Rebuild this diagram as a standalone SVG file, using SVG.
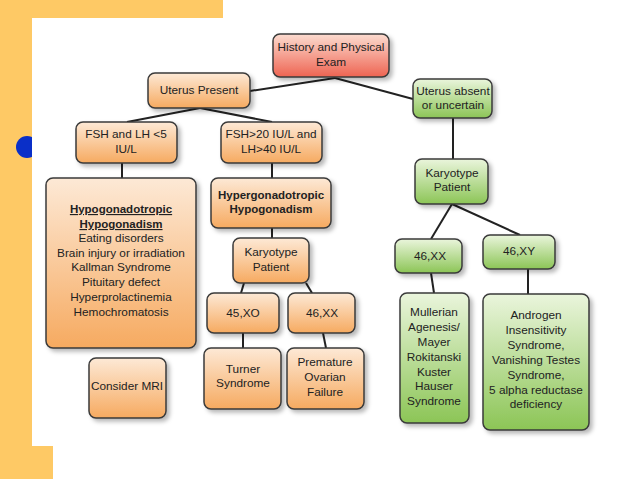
<svg xmlns="http://www.w3.org/2000/svg" width="638" height="479" viewBox="0 0 638 479">
<defs>
<linearGradient id="gOr" x1="0" y1="0" x2="0" y2="1"><stop offset="0" stop-color="#fde9d6"/><stop offset="1" stop-color="#f6aa60"/></linearGradient>
<linearGradient id="gGr" x1="0" y1="0" x2="0" y2="1"><stop offset="0" stop-color="#eaf5dc"/><stop offset="1" stop-color="#8cc556"/></linearGradient>
<linearGradient id="gRd" x1="0" y1="0" x2="0" y2="1"><stop offset="0" stop-color="#fcdcd0"/><stop offset="1" stop-color="#ee6452"/></linearGradient>
<filter id="sh" x="-20%" y="-20%" width="150%" height="150%"><feDropShadow dx="3" dy="3" stdDeviation="2" flood-color="#000" flood-opacity="0.28"/></filter>
<style>
.n rect{stroke:#3a3a3a;stroke-width:1.5;filter:url(#sh)}
.o rect{fill:url(#gOr)}
.g rect{fill:url(#gGr)}
.r rect{fill:url(#gRd)}
text{font-family:"Liberation Sans",Arial,sans-serif;font-size:11.8px;fill:#222;text-anchor:middle}
.b{font-weight:bold;font-size:11.5px}
.u{text-decoration:underline}
#conn line{stroke:#222;stroke-width:2}
</style>
</defs>
<rect x="0" y="0" width="638" height="479" fill="#fff"/>
<g id="bg">
<rect x="0" y="0" width="223" height="18" fill="#fec965"/>
<rect x="0" y="0" width="32" height="479" fill="#fec965"/>
<rect x="0" y="446" width="53" height="33" fill="#fec965"/>
<circle cx="27" cy="147" r="11" fill="#0a2fc8"/>
<rect x="32" y="18" width="606" height="428" fill="#fff"/>
<rect x="53" y="446" width="585" height="33" fill="#fff"/>
</g>
<g id="conn">
<line x1="335" y1="78" x2="250" y2="91"/>
<line x1="335" y1="78" x2="413" y2="99"/>
<line x1="200" y1="108" x2="127" y2="122"/>
<line x1="200" y1="108" x2="272" y2="122"/>
<line x1="122" y1="163" x2="122" y2="178"/>
<line x1="272" y1="163" x2="272" y2="178"/>
<line x1="272" y1="228" x2="272" y2="238"/>
<line x1="244" y1="283" x2="241" y2="293"/>
<line x1="306" y1="283" x2="312" y2="293"/>
<line x1="243" y1="333" x2="243" y2="348"/>
<line x1="323" y1="333" x2="326" y2="348"/>
<line x1="453" y1="118" x2="453" y2="159"/>
<line x1="452" y1="204" x2="431" y2="239"/>
<line x1="452" y1="204" x2="520" y2="235"/>
<line x1="431" y1="273" x2="434" y2="293"/>
<line x1="528" y1="269" x2="528" y2="294"/>
</g>
<g id="history" class="n r"><rect x="273" y="34" width="116" height="43" rx="7"/><text x="331" y="51">History and Physical</text><text x="331" y="66">Exam</text></g>
<g id="uterusPresent" class="n o"><rect x="148" y="73" width="102" height="35" rx="7"/><text x="199" y="94">Uterus Present</text></g>
<g id="uterusAbsent" class="n g"><rect x="413" y="79" width="79" height="39" rx="7"/><text x="453" y="95">Uterus absent</text><text x="453" y="109">or uncertain</text></g>
<g id="fshLow" class="n o"><rect x="76" y="122" width="101" height="41" rx="7"/><text x="126" y="138">FSH and LH &lt;5</text><text x="126" y="153">IU/L</text></g>
<g id="fshHigh" class="n o"><rect x="221" y="122" width="101" height="41" rx="7"/><text x="271" y="138">FSH&gt;20 IU/L and</text><text x="271" y="153">LH&gt;40 IU/L</text></g>
<g id="hypo" class="n o"><rect x="46" y="178" width="150" height="170" rx="7"/>
<text class="b u" x="121" y="213">Hypogonadotropic</text>
<text class="b u" x="121" y="228">Hypogonadism</text>
<text x="121" y="242">Eating disorders</text>
<text x="121" y="257">Brain injury or irradiation</text>
<text x="121" y="271">Kallman Syndrome</text>
<text x="121" y="286">Pituitary defect</text>
<text x="121" y="301">Hyperprolactinemia</text>
<text x="121" y="316">Hemochromatosis</text></g>
<g id="hyper" class="n o"><rect x="211" y="178" width="120" height="50" rx="7"/><text class="b" x="271" y="199">Hypergonadotropic</text><text class="b" x="271" y="213">Hypogonadism</text></g>
<g id="karyoO" class="n o"><rect x="233" y="238" width="76" height="45" rx="7"/><text x="271" y="256">Karyotype</text><text x="271" y="271">Patient</text></g>
<g id="xo" class="n o"><rect x="207" y="293" width="72" height="40" rx="7"/><text x="243" y="317">45,XO</text></g>
<g id="xxO" class="n o"><rect x="288" y="293" width="67" height="40" rx="7"/><text x="322" y="317">46,XX</text></g>
<g id="turner" class="n o"><rect x="204" y="348" width="77" height="61" rx="7"/><text x="243" y="373">Turner</text><text x="243" y="387">Syndrome</text></g>
<g id="premature" class="n o"><rect x="287" y="348" width="77" height="61" rx="7"/><text x="325" y="366">Premature</text><text x="325" y="381">Ovarian</text><text x="325" y="396">Failure</text></g>
<g id="mri" class="n o"><rect x="89" y="358" width="77" height="60" rx="7"/><text x="127" y="390">Consider MRI</text></g>
<g id="karyoG" class="n g"><rect x="415" y="159" width="73" height="45" rx="7"/><text x="452" y="177">Karyotype</text><text x="452" y="191">Patient</text></g>
<g id="xxG" class="n g"><rect x="395" y="239" width="67" height="34" rx="7"/><text x="430" y="260">46,XX</text></g>
<g id="xy" class="n g"><rect x="483" y="235" width="72" height="34" rx="7"/><text x="519" y="255">46,XY</text></g>
<g id="mullerian" class="n g"><rect x="400" y="293" width="69" height="130" rx="7"/>
<text x="434" y="316">Mullerian</text>
<text x="434" y="331">Agenesis/</text>
<text x="434" y="346">Mayer</text>
<text x="434" y="361">Rokitanski</text>
<text x="434" y="376">Kuster</text>
<text x="434" y="390">Hauser</text>
<text x="434" y="405">Syndrome</text></g>
<g id="androgen" class="n g"><rect x="483" y="294" width="106" height="136" rx="7"/>
<text x="536" y="319">Androgen</text>
<text x="536" y="334">Insensitivity</text>
<text x="536" y="349">Syndrome,</text>
<text x="536" y="364">Vanishing Testes</text>
<text x="536" y="379">Syndrome,</text>
<text x="536" y="394">5 alpha reductase</text>
<text x="536" y="408">deficiency</text></g>
</svg>
